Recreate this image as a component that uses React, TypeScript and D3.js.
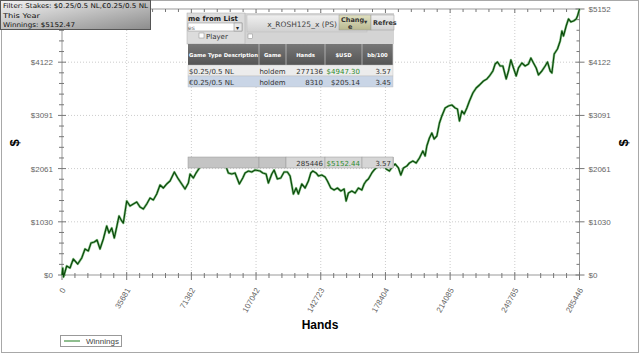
import React from "react";
import * as d3 from "d3";

const hands = [0,386,828,2593,4414,6235,8663,10870,12691,14512,16002,17823,19313,20968,22789,24665,25935,27424,28859,30184,31453,32942,33825,35701,37522,39343,41219,43040,44861,46737,48558,50379,52255,54076,55897,57773,59594,61967,63843,65664,67871,69692,70630,72451,73941,76148,78907,81666,84425,87184,89943,91764,93640,95461,97834,99710,100979,102800,104676,106497,109256,110746,112567,113836,115712,116982,118803,120679,122500,124321,125810,127631,129121,130390,132266,134087,135908,137233,138336,140157,141427,143303,145124,146393,148269,150090,151911,153787,155608,156711,157981,159857,161678,163499,165375,166644,167747,169017,170893,172162,174369,177128,178784,180605,182095,183751,185572,186896,188331,190207,191641,193517,195338,197159,199035,200303,201241,202676,204000,205270,206759,208194,209518,211339,213160,215036,216857,218127,219231,220555,221824,223314,224748,226625,228446,230267,232474,234350,235785,237661,238931,240200,241688,243178,244999,246268,247593,249027,250517,251786,253662,255483,257304,258628,260063,261553,262822,264698,266519,267788,269278,270216,271486,273307,274796,275734,276617,278107,279376,280700,282135,283625,284342,285446];
const winnings = [0,136,-39,174,136,310,213,329,504,465,620,639,678,504,697,949,814,910,717,930,1143,1046,1007,1433,1337,1375,1414,1317,1278,1375,1491,1453,1569,1743,1685,1763,1821,1995,1879,1782,1666,1782,1956,1879,1976,2092,2169,2131,2189,2111,2150,1976,1956,1976,1763,1879,1976,2014,1995,2034,2014,1976,1956,1782,1956,2034,1860,1879,1995,1995,1918,1569,1685,1569,1763,1685,1821,1976,2014,1976,1918,1937,1898,1821,1685,1646,1685,1627,1666,1433,1588,1627,1588,1685,1646,1763,1821,1860,1976,2034,2111,2150,2053,2014,2092,2150,2073,1937,2073,2111,2169,2208,2169,2266,2402,2305,2499,2654,2751,2634,2692,2944,3080,3235,3274,3293,3235,3215,2983,3177,3119,3235,3370,3525,3622,3680,3758,3797,3855,3951,4087,4126,4048,4048,3797,3951,4165,4010,3855,4010,4106,4048,4087,4203,4106,4010,3874,3951,4048,4126,3951,3913,4281,4378,4533,4726,4629,4823,4959,4901,4920,4959,5017,5152];

const xTicks = [0, 35681, 71362, 107042, 142723, 178404, 214085, 249765, 285446];
const yTicks = [0, 1030, 2061, 3091, 4122, 5152];

const filterLines = ["Filter: Stakes: $0.25/0.5 NL,€0.25/0.5 NL", "This Year", "Winnings: $5152.47"];
const tableHeaders = ["Game Type Description", "Game", "Hands", "$USD", "bb/100"];
const tableRows = [
  ["$0.25/0.5 NL", "holdem", "277136", "$4947.30", "3.57"],
  ["€0.25/0.5 NL", "holdem", "8310", "$205.14", "3.45"],
];
const totalRow = ["", "", "285446", "$5152.44", "3.57"];

const L = 62, R = 579.5, T = 9, B = 275;
const font = "Liberation Sans, Arial, sans-serif";
const vfont = "DejaVu Sans, Verdana, sans-serif";

export default function App() {
  const x = d3.scaleLinear().domain([0, 285446]).range([L, R]);
  const y = d3.scaleLinear().domain([0, 5152]).range([B, T]);
  const pts = hands.map((h, i) => [h, winnings[i]] as [number, number]);
  const line = d3.line<[number, number]>().x(d => x(d[0])).y(d => y(d[1]));
  const path = line(pts) || "";

  const xMinor: number[] = [];
  for (let i = 0; i < xTicks.length - 1; i++)
    for (let k = 1; k < 5; k++) xMinor.push(xTicks[i] + (xTicks[i + 1] - xTicks[i]) * k / 5);
  const yMinor: number[] = [];
  for (let i = 0; i < yTicks.length - 1; i++)
    for (let k = 1; k < 5; k++) yMinor.push(yTicks[i] + (yTicks[i + 1] - yTicks[i]) * k / 5);

  const colX = [188, 259, 286, 325, 362, 393];
  const tick = "#777";

  return (
    <svg width={640} height={355} style={{ position: "absolute", left: 0, top: 0, background: "#fff" }}>
      <defs>
        <linearGradient id="fg" x1="0" y1="0" x2="1" y2="1">
          <stop offset="0" stopColor="#f4f4f4" />
          <stop offset="1" stopColor="#8c8c8c" />
        </linearGradient>
        <linearGradient id="tab" x1="0" y1="0" x2="0" y2="1">
          <stop offset="0" stopColor="#f0f0f0" />
          <stop offset="1" stopColor="#d0d0d0" />
        </linearGradient>
        <linearGradient id="btn" x1="0" y1="0" x2="0" y2="1">
          <stop offset="0" stopColor="#e0e0c0" />
          <stop offset="1" stopColor="#b8b890" />
        </linearGradient>
        <linearGradient id="hdr" x1="0" y1="0" x2="0" y2="1">
          <stop offset="0" stopColor="#777" />
          <stop offset="1" stopColor="#555" />
        </linearGradient>
      </defs>
      <rect x={1.5} y={0.5} width={637} height={352} fill="#fff" stroke="#a8a8a8" />

      {/* grid */}
      {xTicks.slice(1, -1).map((t, i) => (
        <line key={"gx" + i} x1={x(t)} x2={x(t)} y1={T} y2={B} stroke="#ccc" strokeDasharray="1,2" />
      ))}
      {yTicks.slice(1, -1).map((t, i) => (
        <line key={"gy" + i} x1={L} x2={R} y1={y(t)} y2={y(t)} stroke="#ccc" strokeDasharray="1,2" />
      ))}

      {/* frame */}
      <rect x={L} y={T} width={R - L} height={B - T} fill="none" stroke="#999" />

      {/* x ticks */}
      {xTicks.map((t, i) => (
        <g key={"xt" + i}>
          <line x1={x(t)} x2={x(t)} y1={B - 3} y2={B + 5} stroke={tick} />
          <line x1={x(t)} x2={x(t)} y1={T} y2={T + 4} stroke={tick} />
          <text x={x(t) + 4} y={B + 15} fontSize={8} fill="#666" fontFamily={font} textAnchor="end"
            transform={`rotate(-60 ${x(t) + 4} ${B + 15})`}>{t}</text>
        </g>
      ))}
      {xMinor.map((t, i) => (
        <g key={"xm" + i}>
          <line x1={x(t)} x2={x(t)} y1={B - 2} y2={B + 3} stroke={tick} />
          <line x1={x(t)} x2={x(t)} y1={T} y2={T + 3} stroke={tick} />
        </g>
      ))}
      {/* y ticks */}
      {yTicks.map((t, i) => (
        <g key={"yt" + i}>
          <line x1={L - 4} x2={L + 4} y1={y(t)} y2={y(t)} stroke={tick} />
          <line x1={R - 4} x2={R + 5} y1={y(t)} y2={y(t)} stroke={tick} />
          <text x={L - 9} y={y(t) + 3} fontSize={8} fill="#666" fontFamily={font} textAnchor="end">${t}</text>
          <text x={R + 9} y={y(t) + 3} fontSize={8} fill="#666" fontFamily={font}>${t}</text>
        </g>
      ))}
      {yMinor.map((t, i) => (
        <g key={"ym" + i}>
          <line x1={L - 3} x2={L + 2} y1={y(t)} y2={y(t)} stroke={tick} />
          <line x1={R - 3} x2={R} y1={y(t)} y2={y(t)} stroke={tick} />
        </g>
      ))}

      {/* line */}
      <path d={path} fill="none" stroke="#8cc48c" strokeWidth={2.4} strokeLinejoin="round" />
      <path d={path} fill="none" stroke="#0a4a0a" strokeWidth={1.2} strokeLinejoin="round" />

      {/* axis titles */}
      <text x={320} y={329} textAnchor="middle" fontSize={12} fontWeight="bold" fontFamily={font}>Hands</text>
      <text transform="translate(19,143) rotate(-90)" textAnchor="middle" fontSize={13} fontWeight="bold" fontFamily={font}>$</text>
      <text transform="translate(628,143) rotate(-90)" textAnchor="middle" fontSize={13} fontWeight="bold" fontFamily={font}>$</text>

      {/* legend */}
      <rect x={60.5} y={335.5} width={61} height={11} fill="#fff" stroke="#999" />
      <line x1={64} x2={80} y1={341} y2={341} stroke="#6aa86a" strokeWidth={1.5} />
      <text x={86} y={344} fontSize={8} fill="#444" fontFamily={font}>Winnings</text>

      {/* filter box */}
      <rect x={0.5} y={0.5} width={150} height={29} fill="url(#fg)" stroke="#555" />
      <text x={3} y={8} fontSize={6.6} fill="#111" fontFamily={vfont} textLength={145} lengthAdjust="spacingAndGlyphs">{filterLines[0]}</text>
      <text x={3} y={17.5} fontSize={6.6} fill="#111" fontFamily={vfont} textLength={37} lengthAdjust="spacingAndGlyphs">{filterLines[1]}</text>
      <text x={3} y={27} fontSize={6.6} fill="#111" fontFamily={vfont} textLength={72} lengthAdjust="spacingAndGlyphs">{filterLines[2]}</text>

      {/* embedded table screenshot */}
      <g fontFamily={vfont}>
        <rect x={187} y={13} width={207} height={31} fill="#d4d4d4" />
        <rect x={187} y={13} width={58} height={31} fill="#dcdcdc" stroke="#aaa" strokeWidth={0.5} />
        <text x={188} y={21} fontSize={7} fontWeight="bold" fill="#222">me from List</text>
        <rect x={188} y={23} width={54} height={8} fill="#fff" stroke="#888" strokeWidth={0.5} />
        <text x={188} y={30} fontSize={6} fill="#666">es</text>
        <rect x={234} y={23} width={8} height={8} fill="#e8e8e8" stroke="#888" strokeWidth={0.5} />
        <text x={236} y={30} fontSize={6} fill="#222">▾</text>
        <rect x={199} y={33} width={5} height={5} fill="#fff" stroke="#888" strokeWidth={0.5} />
        <text x={206} y={38.5} fontSize={7} fill="#333">Player</text>
        <rect x={247} y={15} width={120} height={17} fill="url(#tab)" stroke="#bbb" strokeWidth={0.5} />
        <text x={302} y={27} fontSize={7.5} fill="#444" textAnchor="middle">x_ROSH125_x (PS)</text>
        <rect x={339} y={15} width={32} height={15} fill="url(#btn)" stroke="#999" strokeWidth={0.5} />
        <text x={341} y={22} fontSize={6.5} fontWeight="bold" fill="#333">Chang</text>
        <text x={348} y={29} fontSize={6.5} fontWeight="bold" fill="#333">e</text>
        <text x={364} y={24} fontSize={6.5} fill="#333">▾</text>
        <rect x={371} y={15} width={23} height={15} fill="url(#tab)" stroke="#999" strokeWidth={0.5} />
        <text x={373} y={25} fontSize={6.5} fontWeight="bold" fill="#333">Refres</text>
        <rect x={248} y={34} width={4.5} height={4.5} fill="#fff" stroke="#888" strokeWidth={0.5} />
        {/* header */}
        <rect x={188} y={44} width={205} height={21} fill="url(#hdr)" />
        {tableHeaders.map((h, i) => (
          <g key={"h" + i}>
            <line x1={colX[i + 1]} x2={colX[i + 1]} y1={44} y2={65} stroke="#ccc" strokeWidth={0.7} />
            <text x={(colX[i] + colX[i + 1]) / 2} y={57} fontSize={5.3} fontWeight="bold" fill="#fff" textAnchor="middle">{h}</text>
          </g>
        ))}
        {tableRows.map((r, ri) => (
          <g key={"r" + ri}>
            <rect x={188} y={65 + ri * 11} width={205} height={11} fill={ri === 0 ? "#ececec" : "#c9d5e6"} stroke="#bbb" strokeWidth={0.4} />
            {r.map((c, ci) => (
              <text key={ci} x={ci === 0 ? colX[0] + 1 : ci === 1 ? (colX[1] + colX[2]) / 2 : colX[ci + 1] - 2} y={74 + ri * 11} fontSize={7}
                fill={ci === 3 && ri === 0 ? "#2e8b2e" : "#333"} textAnchor={ci === 0 ? "start" : ci === 1 ? "middle" : "end"}>{c}</text>
            ))}
          </g>
        ))}
        {/* totals strip */}
        <rect x={188} y={157} width={206} height={11} fill="#c4c4c4" />
        {totalRow.map((c, ci) => (
          <g key={"t" + ci}>
            <rect x={colX[ci]} y={157} width={colX[ci + 1] - colX[ci]} height={11}
              fill={c ? "#d6d6d6" : "#c4c4c4"} stroke="#999" strokeWidth={0.5} />
            {c && <text x={colX[ci + 1] - 2} y={166} fontSize={7} textAnchor="end"
              fill={ci === 3 ? "#2e8b2e" : "#333"}>{c}</text>}
          </g>
        ))}
      </g>
    </svg>
  );
}
